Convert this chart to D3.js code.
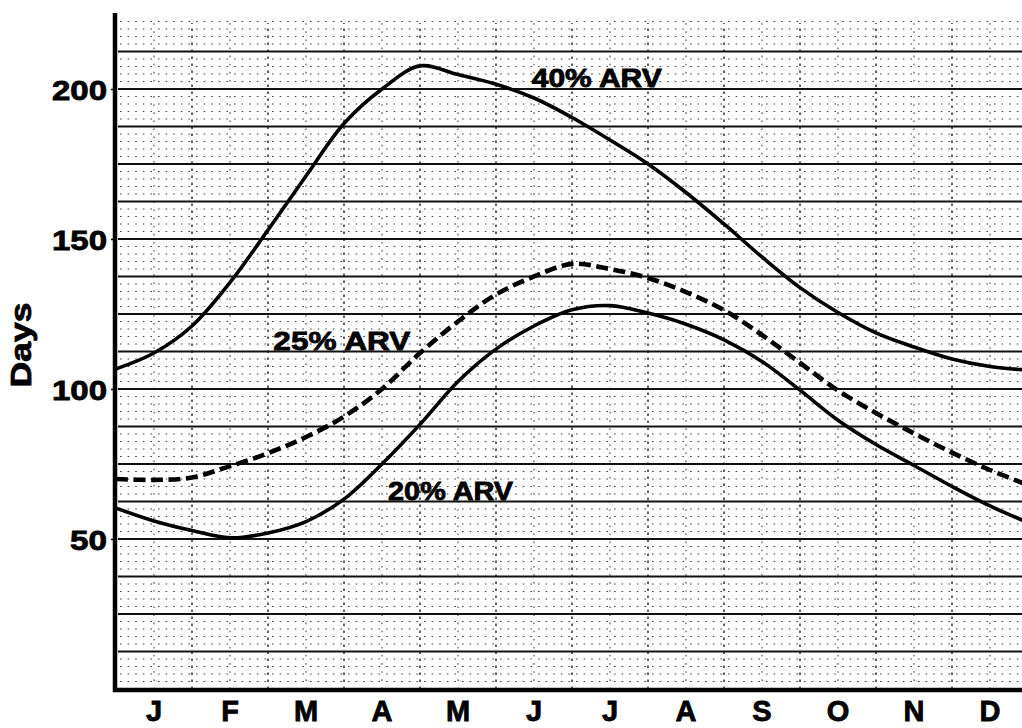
<!DOCTYPE html>
<html>
<head>
<meta charset="utf-8">
<script src="https://cdn.jsdelivr.net/npm/d3@7/dist/d3.min.js"></script>
<style>
  html, body { margin: 0; padding: 0; background: #fff; }
  svg { display: block; }
  text { font-family: "Liberation Sans", Arial, Helvetica, sans-serif; font-weight: bold; fill: #000; }
</style>
</head>
<body>
<svg id="chart" width="1022" height="728"></svg>
<script>
// ---- data ----
const months = ["J", "F", "M", "A", "M", "J", "J", "A", "S", "O", "N", "D"];
const yTicks = [50, 100, 150, 200];
// positions along the year, in months (0 = start of January)
const monthPos = [0, 0.5, 1, 1.5, 2, 2.5, 3, 3.5, 4, 4.5, 5, 5.5, 6, 6.5, 7, 7.5, 8, 8.5, 9, 9.5, 10, 10.5, 11, 11.5, 12];
const arv40 = [106.7, 112, 121, 135.5, 153, 171, 188.5, 200, 207.7, 204.8, 201.6, 197, 190.5, 183, 175, 165.5, 155, 144, 133.8, 125.5, 118.7, 114, 110, 107.5, 106.3];
const arv25 = [70, 69.7, 70.5, 74.3, 78.6, 84, 90.8, 100, 112, 122.5, 131.5, 137.5, 141.7, 140, 137, 132.3, 126.3, 118, 108.7, 99.5, 92, 85.2, 78.8, 73, 68];
const arv20 = [60.3, 56, 52.8, 50.4, 52, 55.8, 63.3, 75, 88.2, 102.5, 113.3, 121, 126.4, 127.8, 125.3, 121.6, 116.4, 109.2, 99.6, 89.6, 81.5, 74.5, 67.5, 61, 55.5];
const seriesNames = ["40% ARV", "25% ARV", "20% ARV"];
// label anchors (month position, days value)
const labelMonth = [5.47, 2.07, 3.58];
const labelDays = [200.7, 113, 63];
const yLabel = "Days";

// ---- layout ----
const W = 1022, H = 728;
const svg = d3.select("#chart");
svg.append("rect").attr("width", W).attr("height", H).attr("fill", "#fff");

const x = d3.scaleLinear().domain([0, 12]).range([116, 1028]);
const y = d3.scaleLinear().domain([0, 225.33]).range([689, 13]);

const grid = svg.append("g");
const x0 = x(0), x1 = W;

// minor horizontal dotted lines every 2.5 days
d3.range(2.5, 225, 2.5).filter(v => Math.abs(v / 12.5 - Math.round(v / 12.5)) > 1e-6).forEach(v => {
  grid.append("line").attr("x1", x0 + 4).attr("x2", x1).attr("y1", y(v)).attr("y2", y(v))
    .attr("stroke", "#444").attr("stroke-width", 1.1).attr("stroke-dasharray", "1.6,6");
});
// half-month vertical dotted lines
d3.range(0.5, 12, 1).forEach(m => {
  grid.append("line").attr("x1", x(m)).attr("x2", x(m)).attr("y1", y(0)).attr("y2", y(222))
    .attr("stroke", "#444").attr("stroke-width", 1.1).attr("stroke-dasharray", "1.6,6.5");
});
// month boundary vertical lines
d3.range(1, 12, 1).forEach(m => {
  grid.append("line").attr("x1", x(m)).attr("x2", x(m)).attr("y1", y(0)).attr("y2", y(222))
    .attr("stroke", "#222").attr("stroke-width", 1.4).attr("stroke-dasharray", "2.5,4.5");
});
// major horizontal lines every 12.5 days
d3.range(12.5, 213, 12.5).forEach(v => {
  grid.append("line").attr("x1", x0 + 2).attr("x2", x1).attr("y1", y(v)).attr("y2", y(v))
    .attr("stroke", "#111").attr("stroke-width", 2);
});

// ---- curves ----
const line = d3.line().x((d, i) => x(monthPos[i])).y(d => y(d)).curve(d3.curveCatmullRom.alpha(0.5));
svg.append("path").datum(arv40).attr("d", line).attr("fill", "none")
  .attr("stroke", "#000").attr("stroke-width", 3.6);
svg.append("path").datum(arv20).attr("d", line).attr("fill", "none")
  .attr("stroke", "#000").attr("stroke-width", 3.6);
svg.append("path").datum(arv25).attr("d", line).attr("fill", "none")
  .attr("stroke", "#000").attr("stroke-width", 4.6).attr("stroke-dasharray", "12,5.5");

// ---- series labels ----
const labelWidths = [130, 137, 125];
seriesNames.forEach((name, i) => {
  svg.append("text").attr("x", x(labelMonth[i])).attr("y", y(labelDays[i]))
    .attr("font-size", 26).attr("textLength", labelWidths[i]).attr("lengthAdjust", "spacingAndGlyphs")
    .attr("stroke", "#000").attr("stroke-width", 0.8)
    .text(name);
});

// ---- axes ----
const yAxis = svg.append("g").attr("transform", `translate(${x(0) - 1},0)`)
  .call(d3.axisLeft(y).tickValues(yTicks).tickSize(4).tickPadding(7));
yAxis.select(".domain").remove();
yAxis.selectAll(".tick line").attr("stroke", "#000").attr("stroke-width", 1.5);
yAxis.selectAll(".tick text").attr("font-size", 28).attr("font-family", "Liberation Sans, Arial, sans-serif")
  .attr("font-weight", "bold").attr("fill", "#000").attr("stroke", "#000").attr("stroke-width", 0.8)
  .attr("dy", "0.36em").attr("x", -8)
  .attr("textLength", 55).attr("lengthAdjust", "spacingAndGlyphs");
yAxis.selectAll(".tick").filter(d => d < 100).select("text").attr("textLength", 37);

// axis lines
svg.append("line").attr("x1", x(0) - 1).attr("x2", x(0) - 1).attr("y1", y(225.33)).attr("y2", y(0) + 3)
  .attr("stroke", "#000").attr("stroke-width", 4.5);
svg.append("line").attr("x1", x(0) - 3).attr("x2", W).attr("y1", y(0) + 1).attr("y2", y(0) + 1)
  .attr("stroke", "#000").attr("stroke-width", 4.5);

// month labels
const band = d3.scaleBand().domain(d3.range(12)).range([x(0), x(12)]);
const xAxis = svg.append("g").attr("transform", `translate(0,${y(0) + 2})`)
  .call(d3.axisBottom(band).tickFormat(i => months[i]).tickSize(0).tickPadding(9));
xAxis.select(".domain").remove();
xAxis.selectAll(".tick text").attr("font-size", 29).attr("font-family", "Liberation Sans, Arial, sans-serif")
  .attr("font-weight", "bold").attr("fill", "#000").attr("stroke", "#000").attr("stroke-width", 0.8);

// y title
svg.append("text").attr("transform", "translate(31,345) rotate(-90)")
  .attr("text-anchor", "middle").attr("font-size", 29)
  .attr("stroke", "#000").attr("stroke-width", 0.8)
  .attr("textLength", 85).attr("lengthAdjust", "spacingAndGlyphs").text(yLabel);
</script>
</body>
</html>
